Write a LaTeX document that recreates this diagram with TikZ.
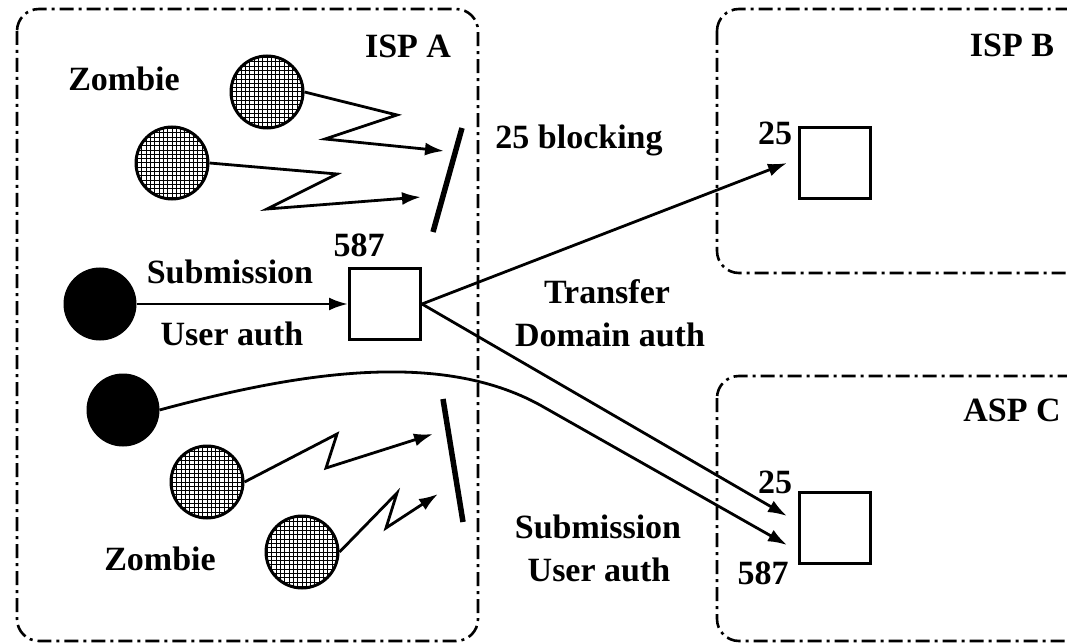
\documentclass[tikz,border=0pt]{standalone}
\usepackage{fontspec}
\setmainfont{Liberation Serif}
\usetikzlibrary{arrows.meta}
\begin{document}
\begin{tikzpicture}[x=1pt,y=-1pt,
  domainbox/.style={draw, line width=2.6, rounded corners=22, dash pattern=on 14pt off 5pt on 3pt off 5pt},
  lab/.style={font=\bfseries\fontsize{34}{36}\selectfont, inner sep=0},
  zombie/.style={circle, draw, line width=3, minimum size=72, inner sep=0,
    path picture={\draw[line width=1] ([shift={(-40pt,-40pt)}]path picture bounding box.center) grid[step=4.3pt] ([shift={(40pt,40pt)}]path picture bounding box.center);}},
  user/.style={circle, fill=black, draw, line width=1, minimum size=72, inner sep=0},
  server/.style={rectangle, draw, line width=3, minimum size=71, inner sep=0},
  arr/.style={line width=2.8, -{Latex[length=19pt,width=13pt]}},
  bar/.style={line width=5.5}]
\useasboundingbox (0,0) rectangle (1067,644);
\clip (0,0) rectangle (1067,644);
% domains
\draw[domainbox] (17,9) rectangle (478,641);
\draw[domainbox] (717,9) rectangle (1100,273);
\draw[domainbox] (717,376) rectangle (1100,641);
\node[lab] (ispa) at (408,46) {ISP A};
\node[lab] (ispb) at (1012,45) {ISP B};
\node[lab] (aspc) at (1012,410) {ASP C};
% zombies top
\node[zombie] (z1) at (267,92) {};
\node[zombie] (z2) at (172,163) {};
\node[lab] (zl1) at (124,79) {Zombie};
\coordinate (z1a) at (397,115);
\coordinate (z1b) at (325,139);
\coordinate (z1t) at (444,151);
\coordinate (z2a) at (337,174);
\coordinate (z2b) at (267,209);
\coordinate (z2t) at (421,197);
\draw[arr] (z1.east) -- (z1a) -- (z1b) -- (z1t);
\draw[arr] (z2.east) -- (z2a) -- (z2b) -- (z2t);
\coordinate (b1s) at (462,128);
\coordinate (b1e) at (433,232);
\draw[bar] (b1s) -- (b1e);
\node[lab] (blk) at (579,140) {25 blocking};
% submission
\node[user] (u1) at (100,304) {};
\node[server] (s587) at (385,304) {};
\node[lab] (l587) at (359,245) {587};
\node[lab] (sub1) at (230,272) {Submission};
\node[lab] (ua1) at (232,334) {User auth};
\draw[arr] (u1.east) -- (s587.west);
% ISP B server
\node[server] (sb) at (835,163) {};
\node[lab] (l25b) at (775,133) {25};
\draw[arr] (s587.east) -- ([shift={(-11,0)}]sb.west);
% ASP C server
\node[server] (sc) at (835,528) {};
\node[lab] (l25c) at (775,482) {25};
\node[lab] (l587c) at (763,573) {587};
\draw[arr] (s587.east) -- ([shift={(-11,-12)}]sc.west);
\node[lab] (tr) at (607,292) {Transfer};
\node[lab] (da) at (610,335) {Domain auth};
% roaming user
\node[user] (u2) at (123,410) {};
\coordinate (cv) at (540,405);
\draw[arr] (u2.east) .. controls (300,372) and (440,350) .. (cv) -- ([shift={(-11,17)}]sc.west);
\node[lab] (sub2) at (598,527) {Submission};
\node[lab] (ua2) at (599,570) {User auth};
% zombies bottom
\node[zombie] (z3) at (207,482) {};
\node[zombie] (z4) at (302,552) {};
\node[lab] (zl2) at (160,559) {Zombie};
\coordinate (z3a) at (337,434);
\coordinate (z3b) at (326,468);
\coordinate (z3t) at (433,434);
\coordinate (z4a) at (397,493);
\coordinate (z4b) at (386,528);
\coordinate (z4t) at (438,494);
\draw[arr] (z3.east) -- (z3a) -- (z3b) -- (z3t);
\draw[arr] (z4.east) -- (z4a) -- (z4b) -- (z4t);
\coordinate (b2s) at (443,399);
\coordinate (b2e) at (463,522);
\draw[bar] (b2s) -- (b2e);
\end{tikzpicture}
\end{document}
